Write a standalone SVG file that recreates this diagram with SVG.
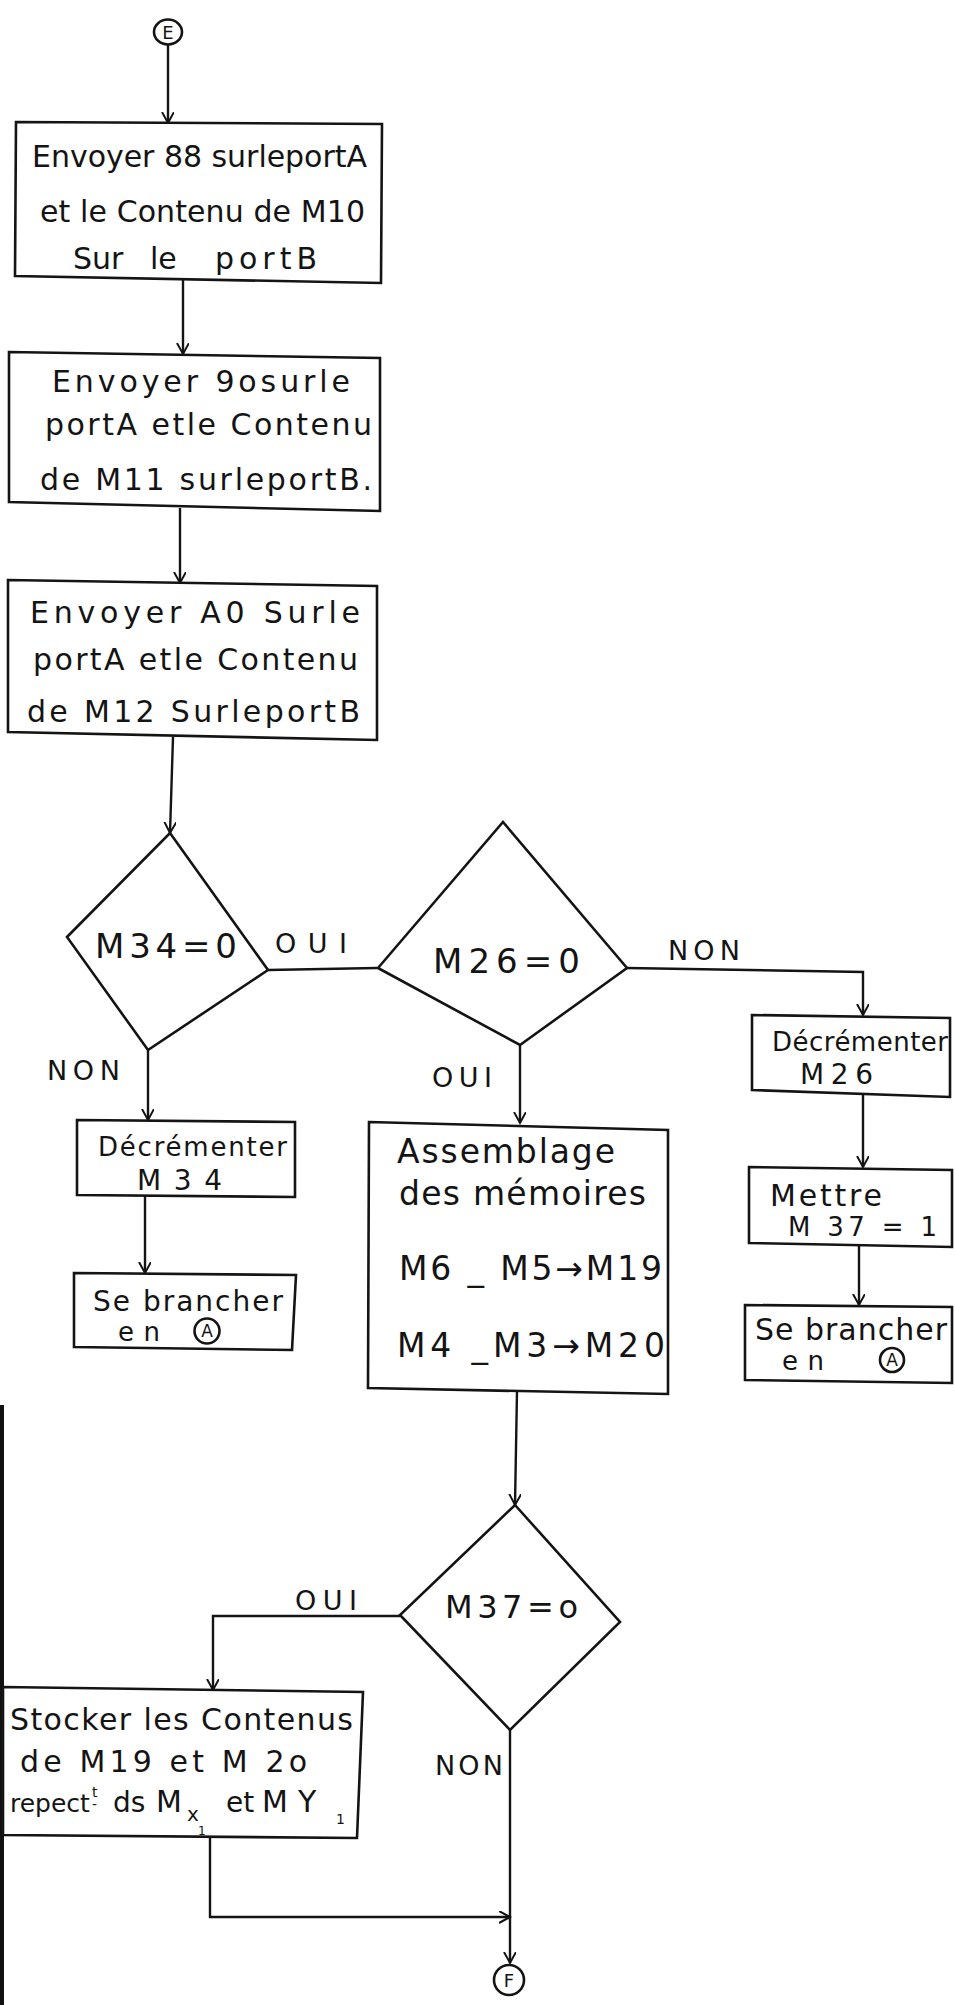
<svg xmlns="http://www.w3.org/2000/svg" width="955" height="2005" viewBox="0 0 955 2005">
<style>
.t{font-family:"DejaVu Sans","Liberation Sans",Arial,sans-serif;fill:#141414;font-size:30px}
.s{font-size:26px}
.l{font-size:27px}
.a{font-size:33px}
.d{font-size:34px}
.b{stroke:#141414;stroke-width:2.6;fill:#fff;stroke-linejoin:miter}
.c{stroke:#141414;stroke-width:2.4;fill:none}
</style>
<defs>
<marker id="arr" markerWidth="14" markerHeight="14" refX="11" refY="6" orient="auto" markerUnits="userSpaceOnUse">
<path d="M0,0 L11,6 L0,12" fill="none" stroke="#141414" stroke-width="2"/>
</marker>
</defs>
<rect width="955" height="2005" fill="#fff"/>
<rect x="0" y="1405" width="4" height="600" fill="#111"/>

<g id="connectors" class="c">
<path d="M168,45 L168,123" marker-end="url(#arr)"/>
<path d="M183,280 L183,354" marker-end="url(#arr)"/>
<path d="M180,508 L180,583" marker-end="url(#arr)"/>
<path d="M173,737 L170,833" marker-end="url(#arr)"/>
<path d="M268,970 L377,968"/>
<path d="M148,1050 L148,1120" marker-end="url(#arr)"/>
<path d="M145,1196 L145,1273" marker-end="url(#arr)"/>
<path d="M627,968 L863,972 L863,1015" marker-end="url(#arr)"/>
<path d="M520,1045 L520,1123" marker-end="url(#arr)"/>
<path d="M863,1094 L863,1167" marker-end="url(#arr)"/>
<path d="M859,1245 L859,1305" marker-end="url(#arr)"/>
<path d="M517,1391 L515,1505" marker-end="url(#arr)"/>
<path d="M400,1616 L213,1616 L213,1690" marker-end="url(#arr)"/>
<path d="M510,1730 L510,1963" marker-end="url(#arr)"/>
<path d="M210,1837 L210,1917 L510,1917" marker-end="url(#arr)"/>
</g>

<g id="labels">
<text class="t l" x="275" y="953" textLength="72">OUI</text>
<text class="t l" x="47" y="1080" textLength="73">NON</text>
<text class="t l" x="432" y="1087" textLength="60">OUI</text>
<text class="t l" x="668" y="960" textLength="72">NON</text>
<text class="t l" x="295" y="1610" textLength="62">OUI</text>
<text class="t l" x="435" y="1775" textLength="68">NON</text>
</g>

<g id="start_E">
<ellipse class="b" cx="168" cy="32" rx="14" ry="12.5"/>
<text class="t" x="168" y="39" text-anchor="middle" style="font-size:18px">E</text>
</g>

<g id="box1">
<polygon class="b" points="16,122 382,124 381,283 15,276"/>
<text class="t" x="32" y="167" textLength="335">Envoyer 88 surleportA</text>
<text class="t" x="40" y="222" textLength="325">et le Contenu de M10</text>
<text class="t" y="269"><tspan x="73">Sur</tspan><tspan x="150">le</tspan><tspan x="215" textLength="102">portB</tspan></text>
</g>

<g id="box2">
<polygon class="b" points="9,352 380,358 380,511 9,502"/>
<text class="t" x="52" y="392" textLength="298">Envoyer 9osurle</text>
<text class="t" x="45" y="435" textLength="327">portA etle Contenu</text>
<text class="t" x="40" y="490" textLength="332">de M11 surleportB.</text>
</g>

<g id="box3">
<polygon class="b" points="8,580 377,586 377,740 8,732"/>
<text class="t" x="30" y="623" textLength="330">Envoyer A0 Surle</text>
<text class="t" x="33" y="670" textLength="325">portA etle Contenu</text>
<text class="t" x="27" y="722" textLength="333">de M12 SurleportB</text>
</g>

<g id="dec_M34">
<polygon class="b" points="170,833 268,970 148,1050 67,937"/>
<text class="t d" x="95" y="958" textLength="142">M34=0</text>
</g>

<g id="dec_M26">
<polygon class="b" points="503,822 627,968 520,1045 378,968"/>
<text class="t d" x="433" y="973" textLength="147">M26=0</text>
</g>

<g id="decrementer_M34">
<polygon class="b" points="77,1120 295,1122 295,1197 77,1195"/>
<text class="t s" x="98" y="1156" textLength="189">Décrémenter</text>
<text class="t" x="137" y="1190" textLength="85" style="font-size:28px">M34</text>
</g>

<g id="brancher_A_1">
<polygon class="b" points="74,1273 296,1275 292,1350 74,1347"/>
<text class="t" x="93" y="1311" textLength="190" style="font-size:28px">Se brancher</text>
<text class="t s" x="118" y="1341" textLength="42">en</text>
<circle class="b" cx="207" cy="1331" r="12.5"/>
<text class="t" x="207" y="1337" text-anchor="middle" style="font-size:17px">A</text>
</g>

<g id="assemblage">
<polygon class="b" points="369,1122 668,1130 668,1394 368,1388"/>
<text class="t a" x="397" y="1163" textLength="218">Assemblage</text>
<text class="t a" x="399" y="1205" textLength="247">des mémoires</text>
<text class="t a" x="399" y="1280" textLength="263">M6 _ M5→M19</text>
<text class="t a" x="397" y="1357" textLength="268">M4 _M3→M20</text>
</g>

<g id="decrementer_M26">
<polygon class="b" points="752,1015 950,1018 950,1097 752,1090"/>
<text class="t s" x="772" y="1051" textLength="176">Décrémenter</text>
<text class="t" x="800" y="1084" textLength="73" style="font-size:28px">M26</text>
</g>

<g id="mettre">
<polygon class="b" points="749,1167 952,1170 952,1247 749,1243"/>
<text class="t" x="770" y="1206" textLength="112">Mettre</text>
<text class="t s" x="788" y="1236" textLength="149">M 37 = 1</text>
</g>

<g id="brancher_A_2">
<polygon class="b" points="745,1305 952,1307 952,1383 745,1380"/>
<text class="t" x="755" y="1340" textLength="192">Se brancher</text>
<text class="t s" x="782" y="1370" textLength="42">en</text>
<circle class="b" cx="892" cy="1360" r="12"/>
<text class="t" x="892" y="1366" text-anchor="middle" style="font-size:17px">A</text>
</g>

<g id="dec_M37">
<polygon class="b" points="515,1505 620,1622 510,1730 400,1615"/>
<text class="t" x="445" y="1618" textLength="133" style="font-size:32px">M37=o</text>
</g>

<g id="stocker">
<polygon class="b" points="3,1687 363,1692 357,1838 3,1835"/>
<text class="t" x="10" y="1730" textLength="343">Stocker les Contenus</text>
<text class="t" x="20" y="1772" textLength="287">de M19 et M 2o</text>
<text class="t" x="10" y="1812" style="font-size:25px">repect</text>
<text class="t" x="92" y="1797" style="font-size:14px">t</text>
<text class="t" x="92" y="1809" style="font-size:14px">-</text>
<text class="t" x="113" y="1812" style="font-size:28px">ds</text>
<text class="t" x="156" y="1812">M</text>
<text class="t" x="187" y="1821" style="font-size:20px">x</text>
<text class="t" x="198" y="1835" style="font-size:12px">1</text>
<text class="t" x="226" y="1812" style="font-size:28px">et</text>
<text class="t" x="262" y="1812">M</text>
<text class="t" x="298" y="1812">Y</text>
<text class="t" x="336" y="1824" style="font-size:14px">1</text>
</g>

<g id="end_F">
<circle class="b" cx="509" cy="1980" r="15"/>
<text class="t" x="509" y="1987" text-anchor="middle" style="font-size:18px">F</text>
</g>
</svg>
